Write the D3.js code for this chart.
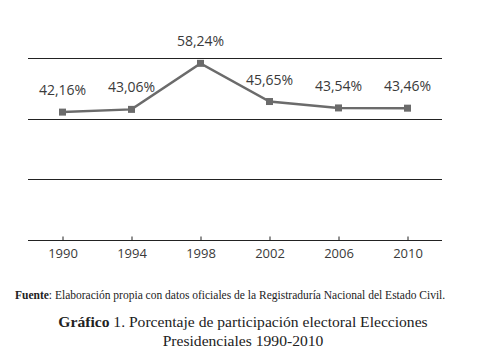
<!DOCTYPE html>
<html>
<head>
<meta charset="utf-8">
<script src="https://cdn.jsdelivr.net/npm/d3@7"></script>
<style>
  body { margin: 0; background: #fff; }
  svg { display: block; }
</style>
</head>
<body>
<div id="chart"></div>
<script>
const years = ["1990", "1994", "1998", "2002", "2006", "2010"];
const participation = [42.16, 43.06, 58.24, 45.65, 43.54, 43.46];
const gridValues = [20, 40, 60];

const width = 487;
const height = 362;
const margin = { left: 28, right: 45, top: 58, bottom: 122 };

const svg = d3.select("#chart").append("svg")
  .attr("width", width)
  .attr("height", height);

const x = d3.scalePoint()
  .domain(years)
  .range([margin.left, width - margin.right])
  .padding(0.5);

const y = d3.scaleLinear()
  .domain([0, 60])
  .range([height - margin.bottom, margin.top]);

const data = years.map((yr, i) => ({ year: yr, value: participation[i] }));

// grid lines
svg.append("g")
  .selectAll("line")
  .data(gridValues)
  .join("line")
  .attr("x1", margin.left)
  .attr("x2", width - margin.right)
  .attr("y1", d => Math.round(y(d)) + 0.5)
  .attr("y2", d => Math.round(y(d)) + 0.5)
  .attr("stroke", "#222")
  .attr("stroke-width", 1);

// x axis with inward ticks
const xAxis = svg.append("g")
  .attr("transform", `translate(0,${Math.round(y(0)) + 0.5})`)
  .call(d3.axisBottom(x).tickSizeInner(-4).tickSizeOuter(0).tickPadding(8));

xAxis.select(".domain")
  .attr("d", `M${margin.left},0H${width - margin.right}`)
  .attr("stroke", "#222");
xAxis.selectAll(".tick line").attr("stroke", "#222");
xAxis.selectAll(".tick text")
  .attr("font-family", "'Open Sans', sans-serif")
  .attr("font-size", 13)
  .attr("fill", "#3a3a3a");

// line
const line = d3.line()
  .x(d => x(d.year))
  .y(d => y(d.value));

svg.append("path")
  .datum(data)
  .attr("d", line)
  .attr("fill", "none")
  .attr("stroke", "#6b6b6b")
  .attr("stroke-width", 2.5);

// square markers
svg.append("g")
  .selectAll("rect")
  .data(data)
  .join("rect")
  .attr("x", d => x(d.year) - 3.5)
  .attr("y", d => y(d.value) - 3.5)
  .attr("width", 7)
  .attr("height", 7)
  .attr("fill", "#6b6b6b");

// value labels
svg.append("g")
  .selectAll("text")
  .data(data)
  .join("text")
  .attr("x", d => x(d.year))
  .attr("y", d => y(d.value) - 17)
  .attr("text-anchor", "middle")
  .attr("font-family", "'Open Sans', sans-serif")
  .attr("font-size", 14)
  .attr("fill", "#3a3a3a")
  .text(d => d3.format(".2f")(d.value).replace(".", ",") + "%");

// source note
const note = svg.append("text")
  .attr("x", 15)
  .attr("y", 299)
  .attr("font-family", "'Liberation Serif', serif")
  .attr("font-size", 11.5)
  .attr("fill", "#222");
note.append("tspan").attr("font-weight", "bold").text("Fuente");
note.append("tspan").text(": Elaboración propia con datos oficiales de la Registraduría Nacional del Estado Civil.");

// caption
const caption = svg.append("text")
  .attr("x", 243)
  .attr("text-anchor", "middle")
  .attr("font-family", "'Liberation Serif', serif")
  .attr("font-size", 15.6)
  .attr("fill", "#222");
const l1 = caption.append("tspan").attr("x", 243).attr("y", 327);
l1.append("tspan").attr("font-weight", "bold").text("Gráfico");
l1.append("tspan").text(" 1. Porcentaje de participación electoral Elecciones");
caption.append("tspan").attr("x", 243).attr("y", 346).text("Presidenciales 1990-2010");
</script>
</body>
</html>
